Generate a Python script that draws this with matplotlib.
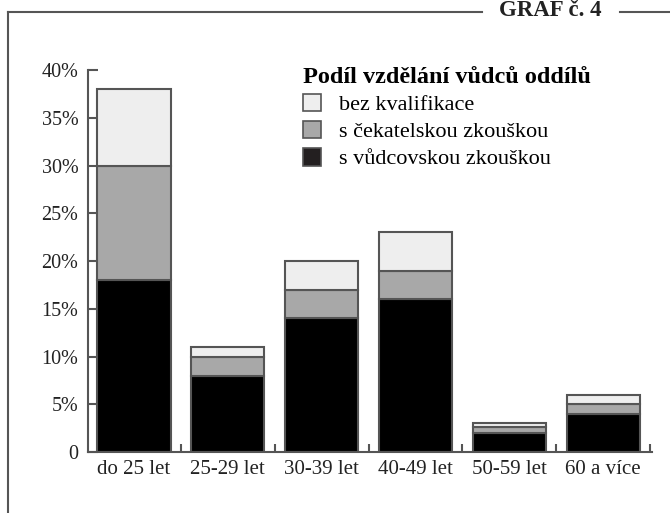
import numpy as np
import matplotlib
matplotlib.use("Agg")
import matplotlib.pyplot as plt
from matplotlib.lines import Line2D

plt.rcParams['font.family'] = ['Liberation Serif', 'DejaVu Serif']

kategorie = ["do 25 let", "25-29 let", "30-39 let", "40-49 let", "50-59 let", "60 a více"]
vudcovska = [18, 8, 14, 16, 2, 4]
cekatelska = [12, 2, 3, 3, 0.6, 1]
bez_kval = [8, 1, 3, 4, 0.4, 1]
y_ticks = [0, 5, 10, 15, 20, 25, 30, 35, 40]
y_labels = ["0", "5%", "10%", "15%", "20%", "25%", "30%", "35%", "40%"]

c_black = "#000000"
c_gray = "#a8a8a8"
c_light = "#eeeeee"
c_edge = "#555555"

fig = plt.figure(figsize=(6.7, 5.13), dpi=100)
ax = fig.add_axes([88/670, 61/513, (652-88)/670, (452-70)/513])

x = np.arange(len(kategorie))
w = 0.78
vud = np.array(vudcovska)
cek = np.array(cekatelska)
bez = np.array(bez_kval)
b1 = ax.bar(x, vud, w, color=c_black, edgecolor=c_edge, linewidth=1.5)
b2 = ax.bar(x, cek, w, bottom=vud, color=c_gray, edgecolor=c_edge, linewidth=1.5)
b3 = ax.bar(x, bez, w, bottom=vud+cek, color=c_light, edgecolor=c_edge, linewidth=1.5)

ax.set_xlim(-0.49, 5.52)
ax.set_ylim(0, 40)
ax.spines['top'].set_visible(False)
ax.spines['right'].set_visible(False)
for s in ['left', 'bottom']:
    ax.spines[s].set_color(c_edge)
    ax.spines[s].set_linewidth(1.5)

ax.set_yticks(y_ticks)
ax.set_yticklabels(y_labels, fontsize=14.5, color="#222222")
ax.tick_params(axis='y', direction='in', length=7, width=1.5, color=c_edge, pad=7)

ax.set_xticks(x)
ax.set_xticklabels(kategorie, fontsize=15, color="#222222")
ax.tick_params(axis='x', which='major', length=0, pad=6)
ax.set_xticks(x + 0.5, minor=True)
ax.tick_params(axis='x', which='minor', direction='in', length=6, width=1.5, color=c_edge)

leg = ax.legend([b3, b2, b1], ["bez kvalifikace", "s čekatelskou zkouškou", "s vůdcovskou zkouškou"],
                title="Podíl vzdělání vůdců oddílů", loc='upper left',
                bbox_to_anchor=(0.345, 1.06), frameon=False, fontsize=16,
                handlelength=0.85, handleheight=0.85, handletextpad=0.8,
                labelspacing=0.25, alignment='left')
leg.get_title().set_fontsize(17.5)
leg.get_title().set_fontweight('bold')
for h in leg.legend_handles:
    h.set_edgecolor(c_edge)
    h.set_linewidth(1.2)
leg.legend_handles[2].set_facecolor("#231f20")

# frame
fig.add_artist(Line2D([8/670, 8/670], [0, 1 - 12/513], color=c_edge, lw=1.5))
fig.add_artist(Line2D([8/670, 482/670], [1 - 12/513, 1 - 12/513], color=c_edge, lw=1.5))
fig.add_artist(Line2D([620/670, 1], [1 - 12/513, 1 - 12/513], color=c_edge, lw=1.5))
fig.text(550/670, 1 - 11/513, "GRAF č. 4", ha='center', va='center',
         fontsize=16.5, fontweight='bold', color="#222222")

fig.savefig("out.png", dpi=100)
